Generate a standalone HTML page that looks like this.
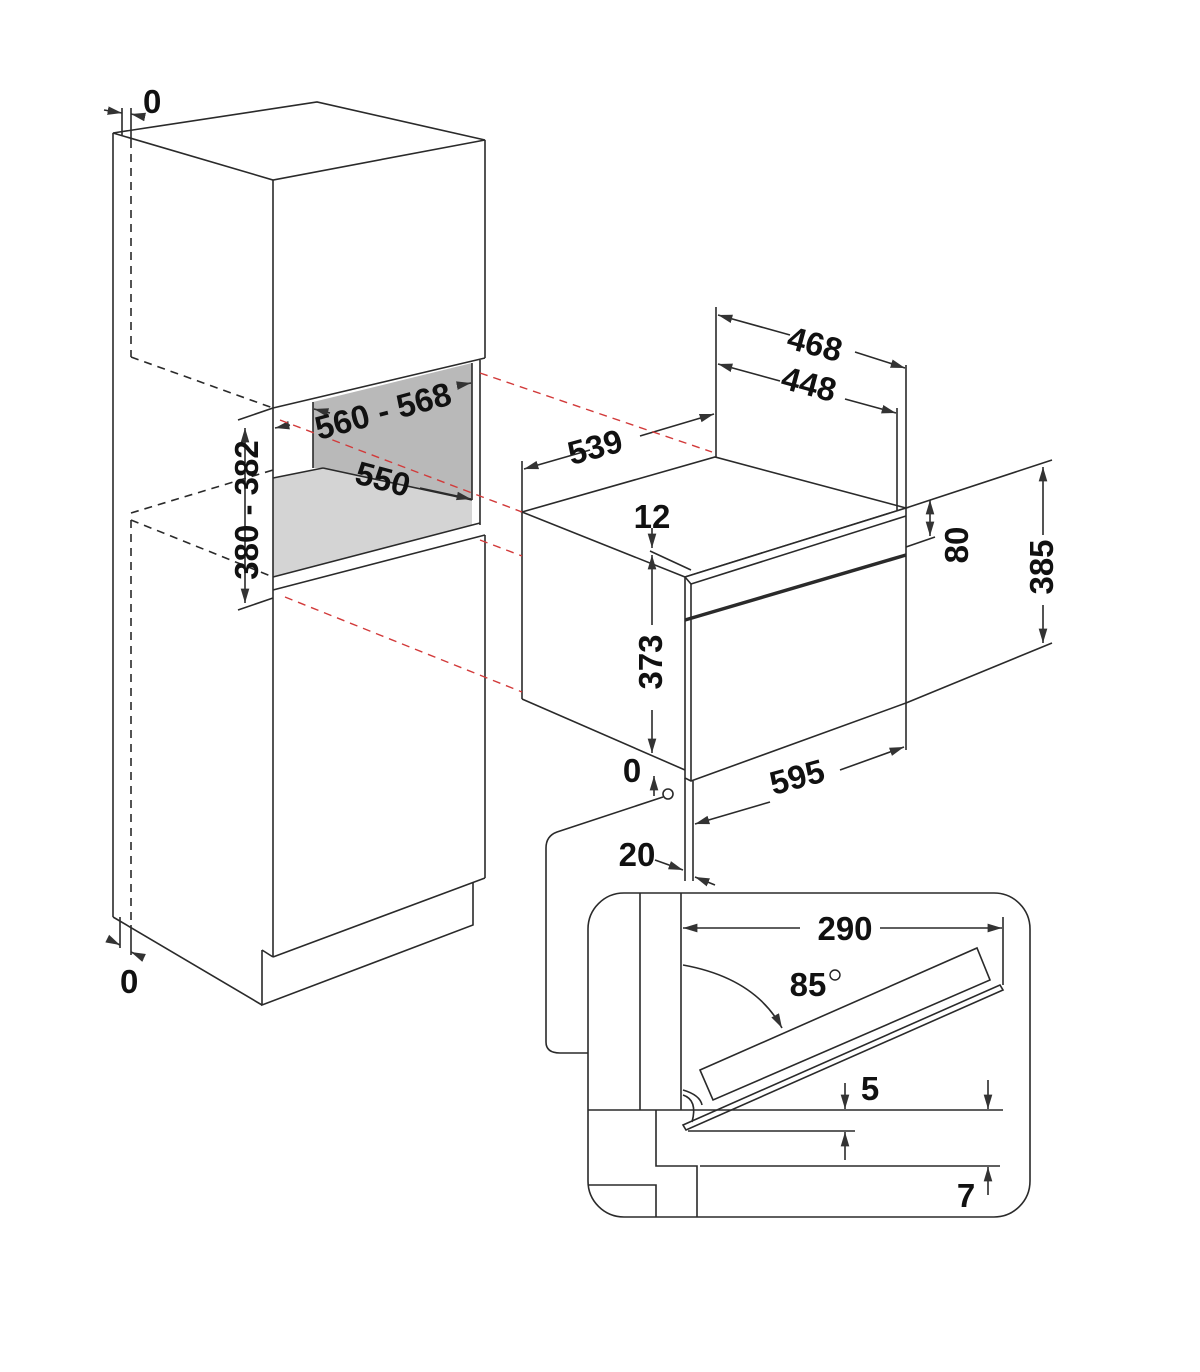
<!DOCTYPE html>
<html><head><meta charset="utf-8"><style>
html,body{margin:0;padding:0;background:#fff}
svg{display:block}
text{font-family:"Liberation Sans",sans-serif;font-weight:bold;font-size:33px;fill:#111}
</style></head><body>
<svg width="1200" height="1372" viewBox="0 0 1200 1372" xmlns="http://www.w3.org/2000/svg">
<defs>
<marker id="a" viewBox="0 0 10 10" refX="10" refY="5" markerWidth="9" markerHeight="9" orient="auto-start-reverse"><path d="M0,2 L10,5 L0,8 z" fill="#333"/></marker>
</defs>
<g fill="none" stroke="#2a2a2a" stroke-width="1.6">
<!-- niche fills -->
<polygon points="313,402 472,363 472,500 323,468 313,468" fill="#b9b9b9" stroke="none"/>
<polygon points="273,478 323,468 472,500 472,525 273,577" fill="#d4d4d4" stroke="none"/>
<!-- cabinet -->
<polygon points="113,133 317,102 485,140 273,180" fill="#fff"/>
<line x1="113" y1="133" x2="113" y2="917"/>
<line x1="273" y1="180" x2="273" y2="957"/>
<line x1="485" y1="140" x2="485" y2="358"/>
<line x1="273" y1="408" x2="485" y2="358"/>
<line x1="472" y1="363" x2="472" y2="500"/>
<line x1="480" y1="360" x2="480" y2="525"/>
<line x1="313" y1="402" x2="313" y2="468"/>
<line x1="273" y1="478" x2="323" y2="468"/>
<line x1="323" y1="468" x2="472" y2="500"/>
<line x1="273" y1="577" x2="480" y2="523"/>
<line x1="273" y1="590" x2="485" y2="535"/>
<line x1="485" y1="535" x2="485" y2="878"/>
<line x1="273" y1="957" x2="485" y2="878"/>
<polyline points="262,950 262,1005 473,925 473,883"/>
<line x1="113" y1="917" x2="262" y2="1005"/>
<line x1="262" y1="950" x2="273" y2="957"/>
<g stroke-dasharray="8,6">
<line x1="131" y1="140" x2="131" y2="357"/>
<line x1="131" y1="357" x2="273" y2="408"/>
<line x1="131" y1="513" x2="273" y2="470"/>
<line x1="131" y1="520" x2="273" y2="577"/>
<line x1="131" y1="520" x2="131" y2="925"/>
</g>
<!-- 0 top/bottom -->
<line x1="122" y1="108" x2="122" y2="135"/><line x1="131" y1="108" x2="131" y2="140"/>
<line x1="104" y1="110" x2="122" y2="113" marker-end="url(#a)"/><line x1="145" y1="117" x2="131" y2="114" marker-end="url(#a)"/>
<line x1="120" y1="917" x2="120" y2="948"/><line x1="131" y1="925" x2="131" y2="955"/>
<line x1="110" y1="940" x2="120" y2="945" marker-end="url(#a)"/><line x1="142" y1="957" x2="131" y2="952" marker-end="url(#a)"/>
<!-- 380-382 dim -->
<line x1="245" y1="428" x2="245" y2="603" marker-start="url(#a)" marker-end="url(#a)"/>
<line x1="238" y1="420" x2="273" y2="408"/><line x1="238" y1="610" x2="273" y2="598"/>
<line x1="290" y1="425" x2="275" y2="428" marker-end="url(#a)"/>
<line x1="460" y1="385" x2="471" y2="383" marker-end="url(#a)"/>
<line x1="330" y1="413" x2="314" y2="409" marker-end="url(#a)"/>
<line x1="420" y1="488" x2="471" y2="499" marker-end="url(#a)"/>
<!-- oven -->
<polygon points="522,512 715,457 906,508 685,577" fill="#fff"/>
<line x1="522" y1="512" x2="522" y2="699"/>
<line x1="522" y1="699" x2="685" y2="770"/>
<polygon points="685,577 906,508 906,703 691,781 685,778" fill="#fff"/>
<line x1="691" y1="584" x2="691" y2="781"/>
<line x1="685" y1="577" x2="691" y2="584"/>
<line x1="691" y1="584" x2="906" y2="516"/>
<line x1="685" y1="620" x2="906" y2="555" stroke-width="3.5"/>
<!-- oven dims -->
<line x1="716" y1="457" x2="716" y2="307"/>
<line x1="906" y1="508" x2="906" y2="365"/>
<line x1="897" y1="510" x2="897" y2="408"/>
<line x1="522" y1="512" x2="522" y2="461"/>
<line x1="524" y1="469" x2="590" y2="450" marker-start="url(#a)"/>
<line x1="640" y1="436" x2="714" y2="414" marker-end="url(#a)"/>
<line x1="718" y1="315" x2="790" y2="335" marker-start="url(#a)"/>
<line x1="855" y1="352" x2="905" y2="368" marker-end="url(#a)"/>
<line x1="718" y1="364" x2="780" y2="381" marker-start="url(#a)"/>
<line x1="845" y1="399" x2="896" y2="413" marker-end="url(#a)"/>
<line x1="906" y1="508" x2="1052" y2="460"/>
<line x1="906" y1="547" x2="935" y2="537"/>
<line x1="930" y1="500" x2="930" y2="536" marker-start="url(#a)" marker-end="url(#a)"/>
<line x1="906" y1="703" x2="1052" y2="643"/>
<line x1="1043" y1="467" x2="1043" y2="535" marker-start="url(#a)"/>
<line x1="1043" y1="605" x2="1043" y2="643" marker-end="url(#a)"/>
<line x1="906" y1="703" x2="906" y2="750"/>
<line x1="650" y1="551" x2="691" y2="570"/>
<line x1="652" y1="528" x2="652" y2="548" marker-end="url(#a)"/>
<line x1="652" y1="555" x2="652" y2="625" marker-start="url(#a)"/>
<line x1="652" y1="710" x2="652" y2="753" marker-end="url(#a)"/>
<line x1="654" y1="796" x2="654" y2="776" marker-end="url(#a)"/>
<line x1="685" y1="778" x2="685" y2="881"/>
<line x1="693" y1="781" x2="693" y2="881"/>
<line x1="695" y1="824" x2="770" y2="802" marker-start="url(#a)"/>
<line x1="840" y1="770" x2="904" y2="747" marker-end="url(#a)"/>
<line x1="655" y1="860" x2="683" y2="870" marker-end="url(#a)"/>
<line x1="715" y1="885" x2="695" y2="877" marker-end="url(#a)"/>
<circle cx="668" cy="794" r="5" fill="#fff"/>
<path d="M663,797 L557,832 Q546,836 546,848 L546,1042 Q546,1053 560,1053 L588,1053"/>
<!-- inset -->
<rect x="588" y="893" width="442" height="324" rx="36" fill="#fff"/>
<line x1="640" y1="893" x2="640" y2="1110"/>
<line x1="681" y1="893" x2="681" y2="1110"/>
<line x1="588" y1="1110" x2="681" y2="1110"/>
<polyline points="656,1110 656,1166 697,1166 697,1217"/>
<polyline points="588,1185 656,1185 656,1217"/>
<line x1="683" y1="928" x2="800" y2="928" marker-start="url(#a)"/>
<line x1="880" y1="928" x2="1002" y2="928" marker-end="url(#a)"/>
<line x1="1003" y1="917" x2="1003" y2="985"/>
<path d="M683,965 Q755,978 782,1028" marker-end="url(#a)"/>
<polygon points="700,1070 977,948 990,980 713,1100" fill="#fff"/>
<polygon points="683,1125 1000,985 1003,990 686,1130" fill="#fff"/>
<path d="M683,1090 Q700,1095 702,1105"/><path d="M683,1095 Q698,1100 692,1122"/>
<line x1="681" y1="1110" x2="1003" y2="1110"/>
<line x1="688" y1="1131" x2="855" y2="1131"/>
<line x1="700" y1="1166" x2="1000" y2="1166"/>
<line x1="845" y1="1083" x2="845" y2="1109" marker-end="url(#a)"/>
<line x1="988" y1="1080" x2="988" y2="1109" marker-end="url(#a)"/>
<line x1="845" y1="1160" x2="845" y2="1132" marker-end="url(#a)"/>
<line x1="988" y1="1195" x2="988" y2="1167" marker-end="url(#a)"/>
</g>
<!-- red dashed -->
<g stroke="#d23a3a" stroke-width="1.4" stroke-dasharray="8,6" fill="none">
<line x1="480" y1="373" x2="712" y2="452"/>
<line x1="280" y1="420" x2="522" y2="512"/>
<line x1="480" y1="540" x2="522" y2="556"/>
<line x1="285" y1="597" x2="522" y2="692"/>
</g>
<text x="143" y="113">0</text>
<text x="120" y="993">0</text>
<text transform="translate(258,510) rotate(-90)" text-anchor="middle">380 - 382</text>
<text transform="translate(386,422) rotate(-15)" text-anchor="middle">560 - 568</text>
<text transform="translate(380,490) rotate(15)" text-anchor="middle">550</text>
<text transform="translate(598,458) rotate(-15)" text-anchor="middle">539</text>
<text transform="translate(812,355) rotate(15)" text-anchor="middle">468</text>
<text transform="translate(806,395) rotate(15)" text-anchor="middle">448</text>
<text x="652" y="528" text-anchor="middle">12</text>
<text transform="translate(662,662) rotate(-90)" text-anchor="middle">373</text>
<text x="632" y="782" text-anchor="middle">0</text>
<text transform="translate(800,788) rotate(-15)" text-anchor="middle">595</text>
<text x="637" y="866" text-anchor="middle">20</text>
<text transform="translate(968,545) rotate(-90)" text-anchor="middle">80</text>
<text transform="translate(1053,567) rotate(-90)" text-anchor="middle">385</text>
<text x="845" y="940" text-anchor="middle">290</text>
<text x="808" y="996" text-anchor="middle">85</text>
<circle cx="835" cy="975" r="5" fill="none" stroke="#222" stroke-width="1.4"/>
<text x="870" y="1100" text-anchor="middle">5</text>
<text x="966" y="1207" text-anchor="middle">7</text>
</svg>
</body></html>
